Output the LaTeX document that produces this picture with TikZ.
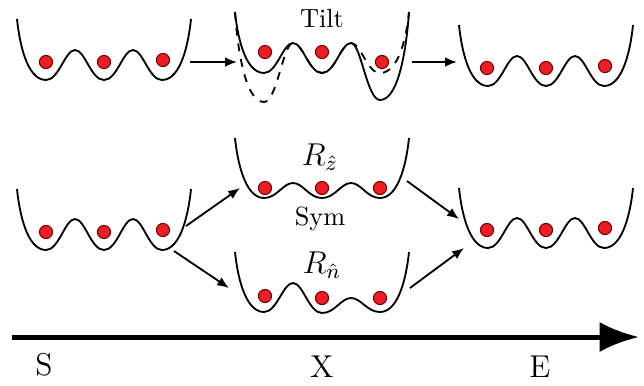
\documentclass[tikz,border=0pt]{standalone}
\usepackage{tikz}
\usetikzlibrary{arrows.meta}

\definecolor{ballred}{RGB}{235,30,37}

% giếng thế ba hố: tâm, đỉnh tường, độ sâu các hố và rào
\newcommand{\well}[8][]{%
  \draw[#1, shift={(#2,#3)}] (-87,0) .. controls (-85,{0.33*#4}) and (-78,#4) .. (-58,#4)
    .. controls (-45,#4) and (-39,#5) .. (-29,#5)
    .. controls (-19,#5) and (-13,#6) .. (0,#6)
    .. controls (13,#6) and (19,#7) .. (29,#7)
    .. controls (39,#7) and (45,#8) .. (58,#8)
    .. controls (78,#8) and (85,{0.33*#8}) .. (87,0);}

\begin{document}
\begin{tikzpicture}[x=0.38pt, y=-0.38pt, line width=0.7pt,
    >={Latex[length=4.5pt,width=3.6pt]},
    ball/.style={circle, fill=ballred, draw=red!45!black, line width=0.4pt,
      minimum size=5pt, inner sep=0pt}]
    \useasboundingbox (0,0) rectangle (644,385);

    % Hàng trên: nghiêng
    \well{104}{19}{61}{31}{61}{31}{61}
    \well[dashed]{322}{12}{90}{31}{61}{31}{61}
    \well{322}{12}{61}{31}{61}{31}{88}
    \well{546}{25}{61}{31}{61}{31}{61}
    \node (tilt) at (322,19) {Tilt};

    \foreach \x/\y [count=\i] in {46/62,104/62,163/60} \node[ball] (a\i) at (\x,\y) {};
    \foreach \x/\y [count=\i] in {265/52,322/52,382/62} \node[ball] (b\i) at (\x,\y) {};
    \foreach \x/\y [count=\i] in {487/68,546/68,605/66} \node[ball] (c\i) at (\x,\y) {};

    \coordinate (t1a) at (190,62);
    \coordinate (t1b) at (237,62);
    \coordinate (t2a) at (412,62);
    \coordinate (t2b) at (457,62);
    \draw[->] (t1a) -- (t1b);
    \draw[->] (t2a) -- (t2b);

    % Hàng dưới: đối xứng
    \well{104}{189}{61}{30}{61}{30}{61}
    \well{322}{138}{60}{45}{60}{45}{60}
    \well{322}{252}{60}{31}{61}{46}{60}
    \well{546}{188}{60}{30}{60}{30}{60}
    \node (rz) at (320,157) {\large $R_{\hat{z}}$};
    \node (sym) at (320,219) {Sym};
    \node (rn) at (322,265) {\large $R_{\hat{n}}$};

    \foreach \x/\y [count=\i] in {46/232,104/232,163/230} \node[ball] (s\i) at (\x,\y) {};
    \foreach \x/\y [count=\i] in {265/188,322/188,380/188} \node[ball] (z\i) at (\x,\y) {};
    \foreach \x/\y [count=\i] in {265/296,322/298,380/298} \node[ball] (n\i) at (\x,\y) {};
    \foreach \x/\y [count=\i] in {487/230,546/230,605/228} \node[ball] (e\i) at (\x,\y) {};

    \coordinate (s1a) at (186,226);
    \coordinate (s1b) at (240,188);
    \coordinate (s2a) at (174,251);
    \coordinate (s2b) at (229,288);
    \coordinate (e1a) at (407,181);
    \coordinate (e1b) at (459,219);
    \coordinate (e2a) at (410,288);
    \coordinate (e2b) at (464,248);
    \draw[->] (s1a) -- (s1b);
    \draw[->] (s2a) -- (s2b);
    \draw[->] (e1a) -- (e1b);
    \draw[->] (e2a) -- (e2b);

    % Trục
    \coordinate (ax0) at (12,337);
    \coordinate (ax1) at (639,337);
    \draw[line width=1.9pt, -{Latex[length=15pt,width=11.5pt]}] (ax0) -- (ax1);
    \node (S) at (44,365) {\large S};
    \node (X) at (322,367) {\large X};
    \node (E) at (540,367) {\large E};
\end{tikzpicture}
\end{document}
